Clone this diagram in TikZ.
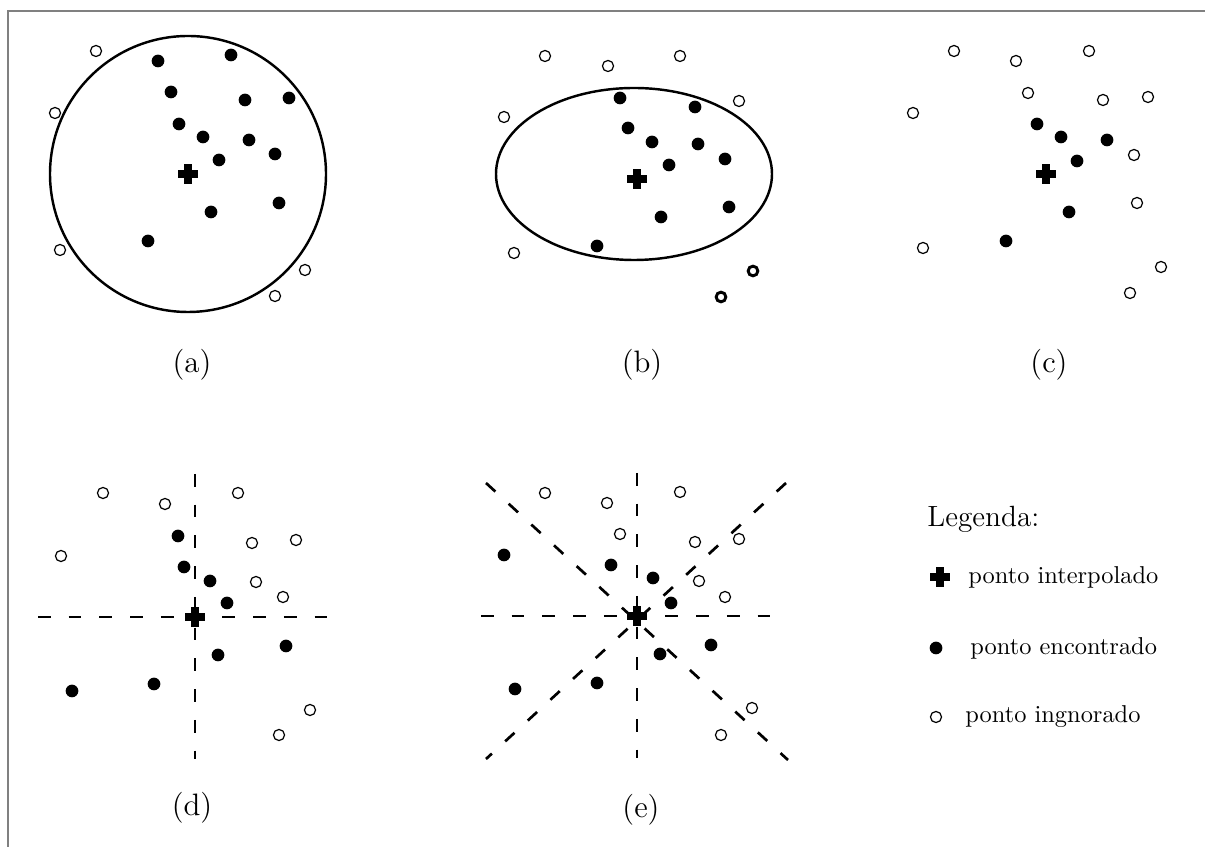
\documentclass[tikz,border=0pt]{standalone}
\usetikzlibrary{positioning}

\begin{document}
\begin{tikzpicture}[
  x=0.0144cm, y=-0.0144cm,
  found/.style={circle, fill=black, minimum size=0.183cm, inner sep=0},
  ignored/.style={circle, draw, line width=0.5pt, minimum size=0.16cm, inner sep=0},
  ignoredb/.style={ignored, line width=1.2pt, minimum size=0.14cm},
  interp/.style={minimum size=0.30cm, inner sep=0,
    path picture={
      \fill ([xshift=-0.58mm]path picture bounding box.north) rectangle ([xshift=0.58mm]path picture bounding box.south);
      \fill ([yshift=-0.58mm]path picture bounding box.west) rectangle ([yshift=0.58mm]path picture bounding box.east);}},
  sub/.style={font=\fontsize{12.7}{15}\selectfont},
  legtext/.style={anchor=west, inner sep=0},
  region/.style={line width=1pt},
  sector/.style={dash pattern=on 5.2pt off 7.4pt, line width=1.1pt},
]
\useasboundingbox (0,0) rectangle (1205,847);
\draw[gray, line width=0.8pt] (8,847) -- (8,11) -- (1205,11);

% (a) raio de busca
\node[interp] (pa) at (188,174) {};
\draw[region] (pa) circle [radius=138];
\node[found] (fa1) at (158,61) {};
\node[found] (fa2) at (231,55) {};
\node[found] (fa3) at (171,92) {};
\node[found] (fa4) at (245,100) {};
\node[found] (fa5) at (289,98) {};
\node[found] (fa6) at (179,124) {};
\node[found] (fa7) at (203,137) {};
\node[found] (fa8) at (249,140) {};
\node[found] (fa9) at (275,154) {};
\node[found] (fa10) at (219,160) {};
\node[found] (fa11) at (279,203) {};
\node[found] (fa12) at (211,212) {};
\node[found] (fa13) at (148,241) {};
\node[ignored] (ia1) at (96,51) {};
\node[ignored] (ia2) at (55,113) {};
\node[ignored] (ia3) at (60,250) {};
\node[ignored] (ia4) at (305,270) {};
\node[ignored] (ia5) at (275,296) {};
\node[sub] (la) at (192,365) {(a)};

% (b) elipse
\node[interp] (pb) at (637,179) {};
\draw[region] (634,174) ellipse [x radius=138, y radius=86];
\node[found] (fb1) at (620,98) {};
\node[found] (fb2) at (695,107) {};
\node[found] (fb3) at (628,128) {};
\node[found] (fb4) at (652,142) {};
\node[found] (fb5) at (698,144) {};
\node[found] (fb6) at (725,159) {};
\node[found] (fb7) at (669,165) {};
\node[found] (fb8) at (729,207) {};
\node[found] (fb9) at (661,217) {};
\node[found] (fb10) at (597,246) {};
\node[ignored] (ib1) at (545,56) {};
\node[ignored] (ib2) at (608,66) {};
\node[ignored] (ib3) at (680,56) {};
\node[ignored] (ib4) at (504,117) {};
\node[ignored] (ib5) at (739,101) {};
\node[ignored] (ib6) at (514,253) {};
\node[ignoredb] (ib7) at (753,271) {};
\node[ignoredb] (ib8) at (721,297) {};
\node[sub] (lb) at (642,365) {(b)};

% (c) vizinhos mais proximos
\node[interp] (pc) at (1046,174) {};
\node[found] (fc1) at (1037,124) {};
\node[found] (fc2) at (1061,137) {};
\node[found] (fc3) at (1107,140) {};
\node[found] (fc4) at (1077,161) {};
\node[found] (fc5) at (1069,212) {};
\node[found] (fc6) at (1006,241) {};
\node[ignored] (ic1) at (954,51) {};
\node[ignored] (ic2) at (1016,61) {};
\node[ignored] (ic3) at (1089,51) {};
\node[ignored] (ic4) at (1028,93) {};
\node[ignored] (ic5) at (1103,100) {};
\node[ignored] (ic6) at (1148,97) {};
\node[ignored] (ic7) at (913,113) {};
\node[ignored] (ic8) at (1134,155) {};
\node[ignored] (ic9) at (1137,203) {};
\node[ignored] (ic10) at (923,248) {};
\node[ignored] (ic11) at (1161,267) {};
\node[ignored] (ic12) at (1130,293) {};
\node[sub] (lc) at (1049,365) {(c)};

% (d) quadrantes
\coordinate (dW) at (38,617);
\coordinate (dE) at (343,617);
\coordinate (dN) at (195,474);
\coordinate (dS) at (195,759);
\draw[sector] (dW) -- (dE);
\draw[sector] (dN) -- (dS);
\node[interp] (pd) at (195,617) {};
\node[found] (fd1) at (178,536) {};
\node[found] (fd2) at (184,567) {};
\node[found] (fd3) at (210,581) {};
\node[found] (fd4) at (227,603) {};
\node[found] (fd5) at (286,646) {};
\node[found] (fd6) at (218,655) {};
\node[found] (fd7) at (154,684) {};
\node[found] (fd8) at (72,691) {};
\node[ignored] (id1) at (103,493) {};
\node[ignored] (id2) at (165,504) {};
\node[ignored] (id3) at (238,493) {};
\node[ignored] (id4) at (252,543) {};
\node[ignored] (id5) at (296,540) {};
\node[ignored] (id6) at (61,556) {};
\node[ignored] (id7) at (256,582) {};
\node[ignored] (id8) at (283,597) {};
\node[ignored] (id9) at (310,710) {};
\node[ignored] (id10) at (279,735) {};
\node[sub] (ld) at (192,808) {(d)};

% (e) octantes
\coordinate (eW) at (481,616);
\coordinate (eE) at (786,616);
\coordinate (eN) at (637,473);
\coordinate (eS) at (637,758);
\coordinate (eNW) at (486,483);
\coordinate (eSE) at (788,760);
\coordinate (eNE) at (786,483);
\coordinate (eSW) at (486,759);
\draw[sector] (eW) -- (eE);
\draw[sector] (eN) -- (eS);
\draw[sector] (eNW) -- (eSE);
\draw[sector] (eNE) -- (eSW);
\node[interp] (pe) at (637,616) {};
\node[found] (fe1) at (504,555) {};
\node[found] (fe2) at (611,565) {};
\node[found] (fe3) at (653,578) {};
\node[found] (fe4) at (671,603) {};
\node[found] (fe5) at (711,645) {};
\node[found] (fe6) at (660,654) {};
\node[found] (fe7) at (597,683) {};
\node[found] (fe8) at (515,689) {};
\node[ignored] (ie1) at (545,493) {};
\node[ignored] (ie2) at (607,503) {};
\node[ignored] (ie3) at (680,492) {};
\node[ignored] (ie4) at (620,534) {};
\node[ignored] (ie5) at (695,542) {};
\node[ignored] (ie6) at (739,539) {};
\node[ignored] (ie7) at (699,581) {};
\node[ignored] (ie8) at (725,597) {};
\node[ignored] (ie9) at (752,708) {};
\node[ignored] (ie10) at (721,735) {};
\node[sub] (le) at (641,810) {(e)};

% legenda
\node[legtext, font=\large] (leg) at (927,519) {Legenda:};
\node[interp] (legp) at (940,577) {};
\node[legtext] (legpt) at (968,577) {ponto interpolado};
\node[found] (legf) at (936,648) {};
\node[legtext] (legft) at (970,648) {ponto encontrado};
\node[ignored] (legi) at (936,717) {};
\node[legtext] (legit) at (965,717) {ponto ingnorado};

\end{tikzpicture}
\end{document}
